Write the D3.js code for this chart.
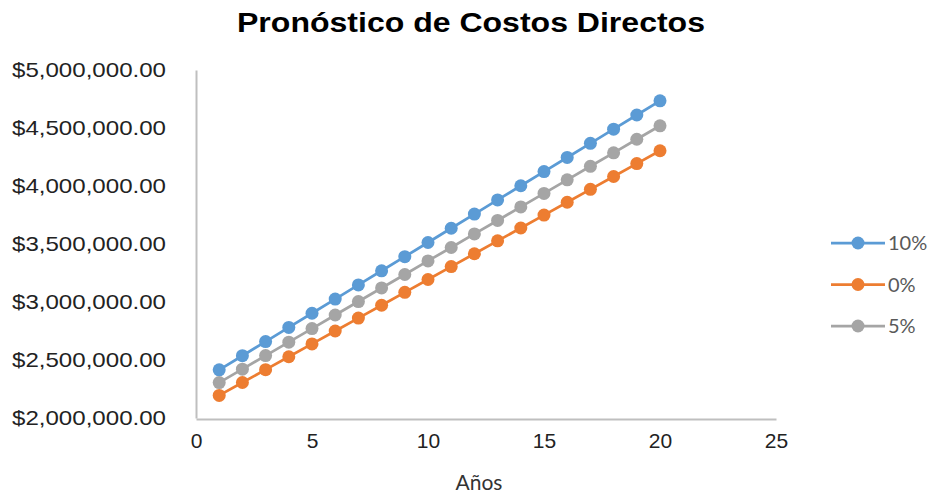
<!DOCTYPE html>
<html>
<head>
<meta charset="utf-8">
<script src="https://cdn.jsdelivr.net/npm/d3@7"></script>
<style>
  html, body { margin: 0; padding: 0; background: #fff; }
  svg { display: block; }
</style>
</head>
<body>
<svg id="chart" width="938" height="496"></svg>
<script>
// Forecast years
const years = [1, 2, 3, 4, 5, 6, 7, 8, 9, 10, 11, 12, 13, 14, 15, 16, 17, 18, 19, 20];

// Direct-cost forecast per scenario
const serie10 = [2415000, 2537000, 2659000, 2781000, 2903000, 3025000, 3147000, 3269000, 3391000, 3513000,
                 3636000, 3758000, 3880000, 4002000, 4124000, 4246000, 4368000, 4490000, 4612000, 4734000];
const serie0  = [2195000, 2306000, 2417000, 2528000, 2639000, 2750000, 2861000, 2972000, 3083000, 3194000,
                 3305000, 3416000, 3527000, 3638000, 3749000, 3860000, 3971000, 4082000, 4193000, 4304000];
const serie5  = [2305000, 2421000, 2538000, 2654000, 2771000, 2888000, 3004000, 3121000, 3237000, 3354000,
                 3470000, 3587000, 3703000, 3820000, 3936000, 4053000, 4170000, 4286000, 4403000, 4519000];

const seriesNames = ["10%", "0%", "5%"];
const seriesColors = ["#5B9BD5", "#ED7D31", "#A5A5A5"];

const yTicks = [2000000, 2500000, 3000000, 3500000, 4000000, 4500000, 5000000];
const xTicks = [0, 5, 10, 15, 20, 25];

const titleText = "Pronóstico de Costos Directos";
const xTitle = "Años";

const series = [
  { name: seriesNames[0], color: seriesColors[0], values: serie10 },
  { name: seriesNames[1], color: seriesColors[1], values: serie0 },
  { name: seriesNames[2], color: seriesColors[2], values: serie5 }
];

const svg = d3.select("#chart");

const plot = { left: 196, right: 776, top: 71, bottom: 419 };

const x = d3.scaleLinear().domain([0, 25]).range([plot.left, plot.right]);
const y = d3.scaleLinear().domain([2000000, 5000000]).range([plot.bottom - 1, plot.top - 1]);

// Title
svg.append("text")
  .attr("x", 471)
  .attr("y", 32)
  .attr("text-anchor", "middle")
  .attr("font-family", "Liberation Sans, Arial, sans-serif")
  .attr("font-weight", "bold")
  .attr("font-size", 27)
  .attr("textLength", 468)
  .attr("lengthAdjust", "spacingAndGlyphs")
  .attr("fill", "#000")
  .text(titleText);

// Y axis
const fmt = d => "$" + d3.format(",.2f")(d);
const yAxis = svg.append("g")
  .attr("transform", `translate(${plot.left},0)`)
  .call(d3.axisLeft(y).tickValues(yTicks).tickSize(0).tickPadding(30).tickFormat(fmt));
yAxis.select(".domain").attr("stroke", "#BFBFBF").attr("stroke-width", 2);
yAxis.selectAll("text")
  .attr("font-family", "Liberation Sans, Arial, sans-serif")
  .attr("font-size", 21)
  .attr("fill", "#222")
  .attr("textLength", 154)
  .attr("lengthAdjust", "spacingAndGlyphs");

// X axis
const xAxis = svg.append("g")
  .attr("transform", `translate(0,${plot.bottom})`)
  .call(d3.axisBottom(x).tickValues(xTicks).tickSize(0).tickPadding(14).tickFormat(d3.format("d")));
xAxis.select(".domain").attr("stroke", "#BFBFBF").attr("stroke-width", 2);
xAxis.selectAll("text")
  .attr("font-family", "Liberation Sans, Arial, sans-serif")
  .attr("font-size", 21)
  .attr("fill", "#222");

// X axis title
svg.append("text")
  .attr("x", 479)
  .attr("y", 490)
  .attr("text-anchor", "middle")
  .attr("font-family", "Lato, 'Open Sans', sans-serif")
  .attr("font-size", 21)
  .attr("fill", "#333")
  .text(xTitle);

// Lines and markers
const line = d3.line()
  .x((d, i) => x(years[i]))
  .y(d => y(d));

const groups = svg.append("g").selectAll("g.series")
  .data(series)
  .join("g")
  .attr("class", "series");

groups.append("path")
  .attr("d", d => line(d.values))
  .attr("fill", "none")
  .attr("stroke", d => d.color)
  .attr("stroke-width", 2.75);

groups.each(function (s) {
  d3.select(this).selectAll("circle")
    .data(s.values)
    .join("circle")
    .attr("cx", (d, i) => x(years[i]))
    .attr("cy", d => y(d))
    .attr("r", 6.5)
    .attr("fill", s.color);
});

// Legend
const legend = svg.append("g").attr("transform", "translate(831,243)");
const items = legend.selectAll("g")
  .data(series)
  .join("g")
  .attr("transform", (d, i) => `translate(0,${i * 41.5})`);
items.append("line")
  .attr("x1", 0).attr("x2", 54)
  .attr("y1", 0).attr("y2", 0)
  .attr("stroke", d => d.color)
  .attr("stroke-width", 2.75);
items.append("circle")
  .attr("cx", 27).attr("cy", 0).attr("r", 6.5)
  .attr("fill", d => d.color);
items.append("text")
  .attr("x", 57)
  .attr("y", 0)
  .attr("dy", "0.35em")
  .attr("font-family", "Lato, 'Open Sans', sans-serif")
  .attr("font-size", 20)
  .attr("fill", "#595959")
  .text(d => d.name);
</script>
</body>
</html>
